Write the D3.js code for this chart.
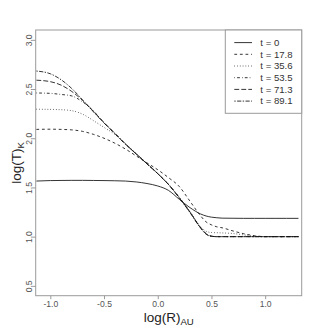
<!DOCTYPE html>
<html><head><meta charset="utf-8">
<script src="https://cdn.jsdelivr.net/npm/d3@7"></script>
<style>html,body{margin:0;padding:0;background:#fff;} svg{display:block;font-family:"Liberation Sans",Arial,sans-serif;}</style>
</head><body><svg id="c" width="332" height="332"></svg>
<script>
const logR = [-1.13,-1.0,-0.9,-0.8,-0.7,-0.6,-0.5,-0.4,-0.3,-0.2,-0.1,0.0,0.1,0.2,0.3,0.4,0.45,0.5,0.55,0.6,0.7,0.8,0.9,1.0,1.1,1.2,1.31];
const seriesNames = ["t = 0","t = 17.8","t = 35.6","t = 53.5","t = 71.3","t = 89.1"];
const t0   = [1.565,1.57,1.571,1.572,1.572,1.571,1.57,1.568,1.565,1.556,1.54,1.515,1.47,1.38,1.295,1.23,1.21,1.198,1.192,1.188,1.187,1.186,1.186,1.186,1.186,1.186,1.186];
const t178 = [2.09,2.092,2.09,2.085,2.07,2.04,2.0,1.95,1.89,1.82,1.75,1.68,1.60,1.51,1.36,1.21,1.15,1.12,1.10,1.09,1.058,1.03,1.01,1.0,1.0,1.0,1.0];
const t356 = [2.295,2.293,2.29,2.28,2.245,2.18,2.11,2.04,1.945,1.845,1.745,1.645,1.535,1.40,1.255,1.10,1.055,1.042,1.04,1.038,1.032,1.018,1.005,1.0,1.0,1.0,1.0];
const t535 = [2.46,2.456,2.445,2.43,2.37,2.28,2.155,2.05,1.94,1.84,1.74,1.64,1.53,1.40,1.25,1.09,1.03,1.005,1.0,1.0,1.0,1.0,1.0,1.0,1.0,1.0,1.0];
const t713 = [2.59,2.575,2.54,2.475,2.385,2.275,2.16,2.05,1.94,1.84,1.74,1.64,1.53,1.395,1.25,1.09,1.03,1.005,1.0,1.0,1.0,1.0,1.0,1.0,1.0,1.0,1.0];
const t891 = [2.683,2.655,2.595,2.505,2.39,2.27,2.155,2.05,1.94,1.84,1.74,1.64,1.53,1.395,1.245,1.085,1.025,1.003,1.0,1.0,1.0,1.0,1.0,1.0,1.0,1.0,1.0];
const xTicks = [-1.0,-0.5,0.0,0.5,1.0];
const yTicks = [0.5,1.0,1.5,2.0,2.5,3.0];
const dashes = ["none","2.8,2.8","0.7,2.1","0.7,2.1,2.8,2.1","4.9,2.1","1.4,1.4,4.2,1.4"];

const allSeries = [t0,t178,t356,t535,t713,t891];
const L=35.7, R=301.7, T=30, B=295.7;
const svg = d3.select("#c");
const x = d3.scaleLinear().domain([-1.136,1.34]).range([L,R]);
const y = d3.scaleLinear().domain([0.4,3.1]).range([B,T]);

const boxCol="#9a9a9a", tickCol="#555";
// axes
const xa = svg.append("g").attr("transform",`translate(0,${B})`)
  .call(d3.axisBottom(x).tickValues(xTicks).tickFormat(d3.format(".1f")).tickSize(3.5).tickPadding(2.2));
xa.select(".domain").remove();
xa.selectAll("line").attr("stroke",boxCol);
xa.selectAll("text").attr("font-size","8.6px").attr("fill",tickCol).attr("font-family","Liberation Sans, Arial, sans-serif")
  .text(d=>d3.format(".1f")(d).replace("−","-"));
const ya = svg.append("g").attr("transform",`translate(${L},0)`)
  .call(d3.axisLeft(y).tickValues(yTicks).tickFormat(d3.format(".1f")).tickSize(3.5));
ya.select(".domain").remove();
ya.selectAll("line").attr("stroke",boxCol);
ya.selectAll("text").attr("font-size","8.6px").attr("fill",tickCol).attr("font-family","Liberation Sans, Arial, sans-serif")
  .attr("x",null).attr("dy",null).attr("text-anchor","middle")
  .attr("transform",function(d){return `translate(-4,0) rotate(-90)`;})
  .attr("y",0);

// clip
svg.append("clipPath").attr("id","clp").append("rect").attr("x",L).attr("y",T).attr("width",R-L).attr("height",B-T);
const line = d3.line().x((d,i)=>x(logR[i])).y(d=>y(d)).curve(d3.curveMonotoneX);
const g = svg.append("g").attr("clip-path","url(#clp)");
allSeries.forEach((s,k)=>{
  g.append("path").attr("d",line(s)).attr("fill","none").attr("stroke","#111")
   .attr("stroke-width",0.85).attr("stroke-dasharray",dashes[k]);
});
// box
svg.append("rect").attr("x",L).attr("y",T).attr("width",R-L).attr("height",B-T)
  .attr("fill","none").attr("stroke",boxCol).attr("stroke-width",1);

// legend
const lg = svg.append("g");
lg.append("rect").attr("x",225.3).attr("y",T).attr("width",R-225.3).attr("height",83.3)
  .attr("fill","#fff").attr("stroke",boxCol).attr("stroke-width",1);
seriesNames.forEach((n,k)=>{
  const yy = 42.6 + k*11.7;
  lg.append("line").attr("x1",234.3).attr("x2",252).attr("y1",yy).attr("y2",yy)
    .attr("stroke","#111").attr("stroke-width",0.85).attr("stroke-dasharray",dashes[k]);
  lg.append("text").attr("x",260.3).attr("y",yy+3.3).attr("font-size","9.6px").attr("fill","#333").text(n);
});

// titles
const xt = svg.append("text").attr("x",(L+R)/2).attr("y",322).attr("text-anchor","middle")
  .attr("font-size","13.5px").attr("fill","#222");
xt.append("tspan").text("log(R)");
xt.append("tspan").attr("font-size","9.6px").attr("dy",3).text("AU");
const yt = svg.append("text").attr("transform",`translate(21,${(T+B)/2}) rotate(-90)`).attr("text-anchor","middle")
  .attr("font-size","13.5px").attr("fill","#222");
yt.append("tspan").text("log(T)");
yt.append("tspan").attr("font-size","9.6px").attr("dy",3).text("K");
</script></body></html>
